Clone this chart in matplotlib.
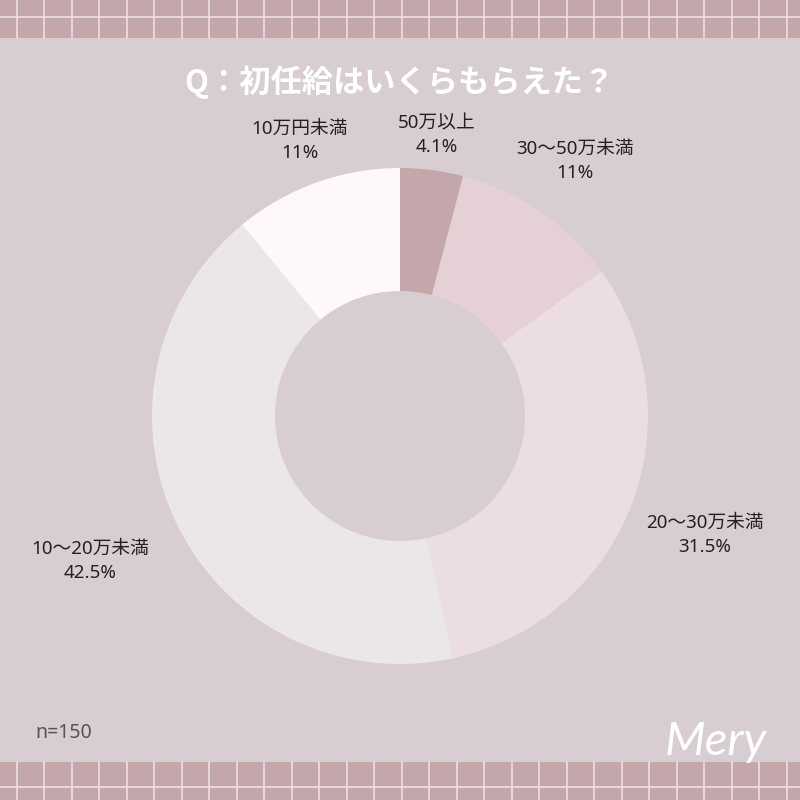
import numpy as np
import matplotlib
matplotlib.use("Agg")
import matplotlib.pyplot as plt
from matplotlib.patches import Rectangle

plt.rcParams['font.family'] = ['Noto Sans', 'Noto Sans CJK JP', 'DejaVu Sans']

# data (clockwise from 12 o'clock)
categories = ["50万以上", "30～50万未満", "20～30万未満", "10～20万未満", "10万円未満"]
shares = [4.1, 11, 31.5, 42.5, 11]
share_labels = ["4.1%", "11%", "31.5%", "42.5%", "11%"]
colors = ["#c4a7ab", "#e5d1d5", "#ecdde0", "#ebe7e8", "#fff8f8"]
title = "Q：初任給はいくらもらえた？"
sample_note = "n=150"

# label positions in pixel coords (x, y from top)
label_pos = [(437, 135), (575, 161), (705, 535), (90, 561), (300, 141)]

BG = "#d8cdd1"
BAND = "#c4a7ab"
GRID = "#efdfe2"

fig = plt.figure(figsize=(8, 8), dpi=100, facecolor=BG)
ax = fig.add_axes([0, 0, 1, 1])

# checkered bands top and bottom
for y0, y1 in [(762, 800), (0, 38)]:
    ax.add_patch(Rectangle((0, y0), 800, y1 - y0, facecolor=BAND, edgecolor="none", zorder=1))
    for gx in np.arange(16.7, 800, 27.5):
        ax.plot([gx, gx], [y0, y1], color=GRID, lw=1.2, zorder=2)
ax.plot([0, 800], [783, 783], color=GRID, lw=1.2, zorder=2)
ax.plot([0, 800], [13, 13], color=GRID, lw=1.2, zorder=2)

# donut
ax.pie(shares, colors=colors, startangle=90, counterclock=False,
       center=(400, 384), radius=248,
       wedgeprops=dict(width=123, edgecolor="none"), frame=True)
ax.set_xlim(0, 800)
ax.set_ylim(0, 800)
ax.set_aspect("equal")
ax.axis("off")

for cat, lab, (x, y) in zip(categories, share_labels, label_pos):
    ax.text(x, 800 - y, f"{cat}\n{lab}", ha="center", va="center",
            fontsize=13.5, color="#222222", linespacing=1.4)

ax.text(400, 800 - 82, title, ha="center", va="center", fontsize=22.5,
        fontweight="bold", color="white", family=["Noto Sans CJK JP", "DejaVu Sans"])
ax.text(35, 800 - 733, sample_note, ha="left", va="center", fontsize=14,
        color="#555555")
ax.text(716, 800 - 742, "Mery", ha="center", va="center", fontsize=34,
        fontstyle="italic", fontweight="normal", color="white",
        family=["Lato", "DejaVu Sans"], zorder=5)

fig.savefig("out.png", dpi=100, facecolor=BG)
